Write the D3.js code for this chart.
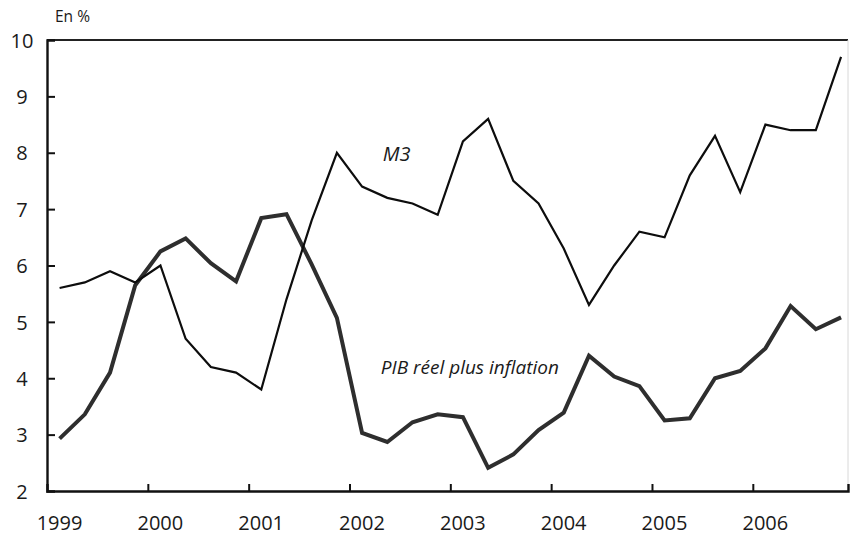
<!DOCTYPE html>
<html>
<head>
<meta charset="utf-8">
<script src="https://cdn.jsdelivr.net/npm/d3@7"></script>
<style>
  html, body { margin: 0; padding: 0; background: #fff; }
  svg { display: block; }
  text { font-family: "Open Sans", "DejaVu Sans", sans-serif; fill: #1a1a1a; }
</style>
</head>
<body>
<svg id="chart" width="850" height="536"></svg>
<script>
// Quarterly data, 1999 Q1 – 2006 Q4 (year-on-year growth, %)
const quarters = [
  "1999T1","1999T2","1999T3","1999T4",
  "2000T1","2000T2","2000T3","2000T4",
  "2001T1","2001T2","2001T3","2001T4",
  "2002T1","2002T2","2002T3","2002T4",
  "2003T1","2003T2","2003T3","2003T4",
  "2004T1","2004T2","2004T3","2004T4",
  "2005T1","2005T2","2005T3","2005T4",
  "2006T1","2006T2","2006T3","2006T4"
];
const m3 = [
  5.6, 5.7, 5.9, 5.7,
  6.0, 4.7, 4.2, 4.1,
  3.8, 5.4, 6.8, 8.0,
  7.4, 7.2, 7.1, 6.9,
  8.2, 8.6, 7.5, 7.1,
  6.3, 5.3, 6.0, 6.6,
  6.5, 7.6, 8.3, 7.3,
  8.5, 8.4, 8.4, 9.7
];
const pibInflation = [
  2.93, 3.36, 4.1, 5.65,
  6.25, 6.48, 6.04, 5.72,
  6.84, 6.91, 6.02, 5.07,
  3.03, 2.87, 3.22, 3.36,
  3.31, 2.41, 2.65, 3.08,
  3.39, 4.4, 4.03, 3.86,
  3.25, 3.29, 4.0, 4.13,
  4.53, 5.28, 4.87, 5.08
];
const yearTicks = [1999, 2000, 2001, 2002, 2003, 2004, 2005, 2006];
const valueTicks = [2, 3, 4, 5, 6, 7, 8, 9, 10];
const unitLabel = "En %";
const seriesLabels = ["M3", "PIB réel plus inflation"];

// time position of each quarter (mid-quarter)
function qTime(q) {
  const yr = +q.slice(0, 4), n = +q.slice(5);
  return yr + (n - 0.5) / 4;
}

const svg = d3.select("#chart");
const x = d3.scaleLinear().domain([1999, 2006.944]).range([47, 848]);
const y = d3.scaleLinear().domain([2, 10]).range([491, 40]);

// frame: top border and light right border
svg.append("line").attr("x1", 47).attr("x2", 848).attr("y1", y(10)).attr("y2", y(10))
  .attr("stroke", "#222").attr("stroke-width", 2.2);
svg.append("line").attr("x1", 848).attr("x2", 848).attr("y1", y(10)).attr("y2", y(2))
  .attr("stroke", "#d8d8d8").attr("stroke-width", 1);

// y axis
const yAxis = svg.append("g").attr("transform", `translate(${x(1999)},0)`)
  .call(d3.axisRight(y).tickValues(valueTicks).tickSize(8).tickFormat(d3.format("d")));
yAxis.select(".domain").attr("stroke", "#111").attr("stroke-width", 2.4);
yAxis.selectAll(".tick line").attr("stroke", "#111").attr("stroke-width", 2);
yAxis.selectAll(".tick text")
  .attr("x", 22 - x(1999)).attr("text-anchor", "middle").attr("dy", "0.36em")
  .style("font-size", "20px").style("font-family", "'Open Sans', 'DejaVu Sans', sans-serif")
  .attr("fill", "#111");
yAxis.selectAll(".tick").filter(d => d === 10).select("line").remove();
yAxis.selectAll(".tick").filter(d => d === 2).select("line").remove();

// x axis
const xAxis = svg.append("g").attr("transform", `translate(0,${y(2)})`)
  .call(d3.axisTop(x).tickValues(yearTicks).tickSize(7).tickFormat(d3.format("d")));
xAxis.select(".domain").attr("stroke", "#111").attr("stroke-width", 2.4);
xAxis.selectAll(".tick line").attr("stroke", "#111").attr("stroke-width", 2);
xAxis.selectAll(".tick").filter(d => d === 1999).select("line").remove();
xAxis.selectAll(".tick text")
  .attr("y", 39).attr("dy", 0).attr("dx", 12).attr("text-anchor", "middle")
  .style("font-size", "20px").style("font-family", "'Open Sans', 'DejaVu Sans', sans-serif")
  .attr("fill", "#111");

// lines
const line = d3.line().x(d => x(d.t)).y(d => y(d.v));
const m3Data = quarters.map((q, i) => ({ t: qTime(q), v: m3[i] }));
const pibData = quarters.map((q, i) => ({ t: qTime(q), v: pibInflation[i] }));

svg.append("path").datum(pibData).attr("d", line)
  .attr("fill", "none").attr("stroke", "#2e2e2e").attr("stroke-width", 4)
  .attr("stroke-linejoin", "miter").attr("stroke-linecap", "butt");
svg.append("path").datum(m3Data).attr("d", line)
  .attr("fill", "none").attr("stroke", "#0d0d0d").attr("stroke-width", 2.2)
  .attr("stroke-linejoin", "miter").attr("stroke-linecap", "butt");

// unit label
svg.append("text").attr("x", 55).attr("y", 22).text(unitLabel)
  .style("font-size", "15.5px");

// series labels
svg.append("text").attr("x", x(2002.33)).attr("y", y(7.86)).text(seriesLabels[0])
  .style("font-size", "20px").style("font-style", "italic");
svg.append("text").attr("x", x(2002.31)).attr("y", y(4.08)).text(seriesLabels[1])
  .style("font-size", "19px").style("font-style", "italic");
</script>
</body>
</html>
